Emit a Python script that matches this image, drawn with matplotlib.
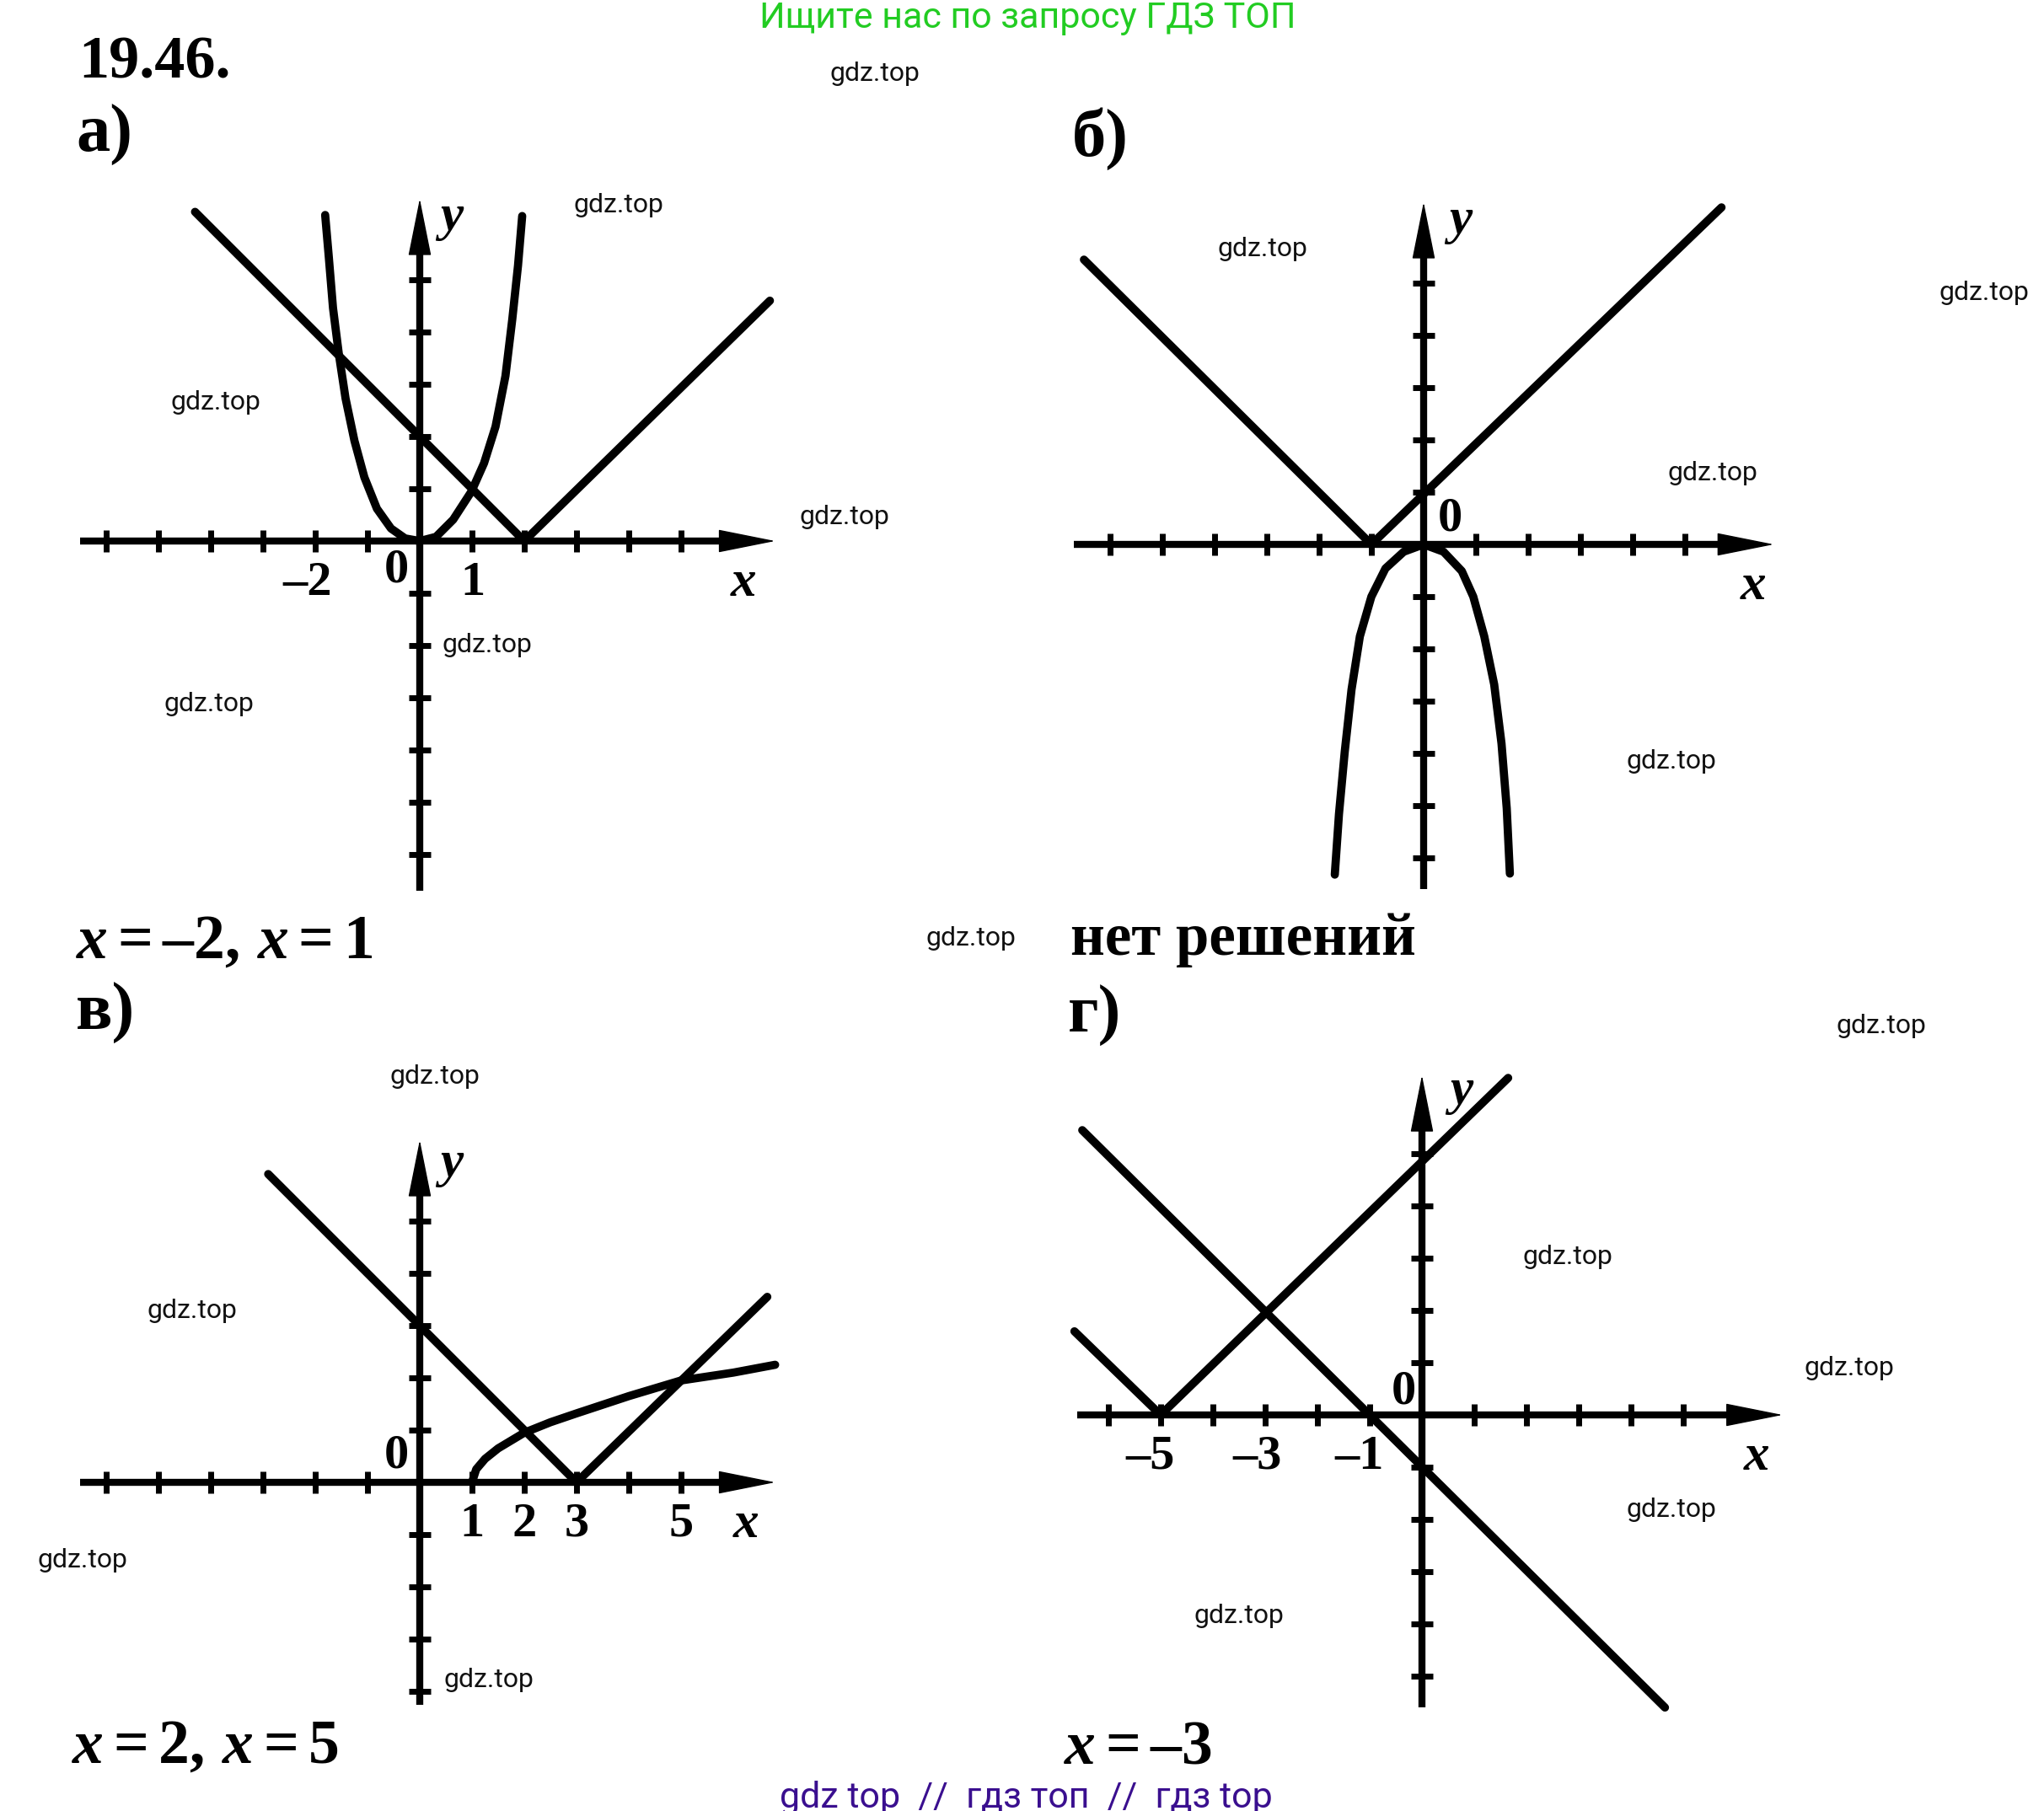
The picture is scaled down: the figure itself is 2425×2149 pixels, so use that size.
import numpy as np
import matplotlib.pyplot as plt

# figure size in pixels and the grid unit (one unit on every graph, px)
W, H = 2425, 2149
U = 62

# --- а) y = x^2 and y = |x - 2| ---
a_origin = (498, 642)
a_v_x = [-4.3, 2.0, 6.7]
a_v_y = [6.3, 0.0, 4.6]
a_par_x = [-1.81, -1.74, -1.66, -1.55, -1.42, -1.25, -1.06, -0.82, -0.55, -0.28, 0.0,
           0.31, 0.64, 0.99, 1.23, 1.45, 1.64, 1.77, 1.88, 1.96]
a_par_y = [6.24, 5.43, 4.46, 3.59, 2.73, 1.92, 1.22, 0.62, 0.24, 0.05, 0.0,
           0.08, 0.41, 0.95, 1.49, 2.19, 3.16, 4.24, 5.27, 6.22]

# --- б) y = -x^2 and y = |x + 1| ---
b_origin = (1689, 646)
b_v_x = [-6.5, -1.0, 5.7]
b_v_y = [5.45, 0.0, 6.45]
b_par_x = [-1.70, -1.62, -1.51, -1.38, -1.22, -1.0, -0.73, -0.38, 0.0,
           0.38, 0.73, 0.95, 1.16, 1.35, 1.49, 1.59, 1.65]
b_par_y = [-6.32, -5.16, -3.97, -2.78, -1.76, -1.0, -0.46, -0.14, 0.0,
           -0.14, -0.51, -1.0, -1.76, -2.68, -3.81, -5.05, -6.3]

# --- в) y = sqrt(x - 1) and y = |x - 3| ---
c_origin = (498, 1759)
c_v_x = [-2.9, 3.0, 6.65]
c_v_y = [5.9, 0.0, 3.55]
c_root_x = [1.0, 1.08, 1.25, 1.5, 2.0, 2.5, 3.0, 4.0, 5.0, 6.0, 6.8]
c_root_y = [0.0, 0.25, 0.45, 0.65, 0.95, 1.15, 1.32, 1.65, 1.95, 2.1, 2.25]

# --- г) y = |x + 5| and y = -x - 1 ---
d_origin = (1687, 1679)
d_v_x = [-6.65, -5.0, 1.65]
d_v_y = [1.6, 0.0, 6.45]
d_l_x = [-6.5, 4.65]
d_l_y = [5.45, -5.6]

# axis extents and ticks: (x_left, x_tip, y_bottom, y_tip)
a_ext = (-6.5, 6.8, -6.7, 6.55)
b_ext = (-6.7, 6.7, -6.6, 6.55)
c_ext = (-6.5, 6.8, -4.25, 6.55)
d_ext = (-6.6, 6.9, -5.6, 6.5)
a_xt = [-6, -5, -4, -3, -2, -1, 1, 2, 3, 4, 5]
a_yt = [-6, -5, -4, -3, -2, -1, 1, 2, 3, 4, 5]
b_xt = [-6, -5, -4, -3, -2, -1, 1, 2, 3, 4, 5]
b_yt = [-6, -5, -4, -3, -2, -1, 1, 2, 3, 4, 5]
c_xt = [-6, -5, -4, -3, -2, -1, 1, 2, 3, 4, 5]
c_yt = [-4, -3, -2, -1, 1, 2, 3, 4, 5]
d_xt = [-6, -5, -4, -3, -2, -1, 1, 2, 3, 4, 5]
d_yt = [-5, -4, -3, -2, -1, 1, 2, 3, 4, 5]

# tick labels (text, x, y) in data units
a_labels = [("–2", -2.15, -0.8), ("0", -0.45, -0.55), ("1", 1.02, -0.8)]
b_labels = [("0", 0.5, 0.5)]
c_labels = [("0", -0.45, 0.5), ("1", 1.0, -0.8), ("2", 2.0, -0.8),
            ("3", 3.0, -0.8), ("5", 5.0, -0.8)]
d_labels = [("0", -0.35, 0.45), ("–5", -5.2, -0.8), ("–3", -3.15, -0.8),
            ("–1", -1.2, -0.8)]

watermarks = [(990, 87), (686, 244), (207, 477), (954, 614), (529, 766),
              (199, 835), (1449, 295), (2305, 348), (1984, 561), (1935, 903),
              (1104, 1113), (2184, 1217), (468, 1278), (179, 1555), (50, 1851),
              (532, 1993), (1811, 1491), (2145, 1623), (1935, 1792), (1421, 1917)]

plt.rcParams['mathtext.fontset'] = 'custom'
plt.rcParams['mathtext.rm'] = 'Liberation Serif:bold'
plt.rcParams['mathtext.it'] = 'Liberation Serif:italic:bold'
plt.rcParams['mathtext.bf'] = 'Liberation Serif:bold'

SERIF = 'Liberation Serif'
LW = 7.0      # curves
AX_LW = 6.0   # axes

fig = plt.figure(figsize=(W / 100, H / 100), dpi=100)


def make_ax(origin, ext):
    ox, oy = origin
    x0, x1 = ext[0] - 0.5, ext[1] + 0.5
    y0, y1 = ext[2] - 0.5, ext[3] + 0.5
    ax = fig.add_axes([(ox + x0 * U) / W, (H - oy + y0 * U) / H,
                       (x1 - x0) * U / W, (y1 - y0) * U / H])
    ax.set_xlim(x0, x1)
    ax.set_ylim(y0, y1)
    ax.axis('off')
    ax.patch.set_alpha(0)
    return ax


def draw_axes(ax, ext, xt, yt, xlab_pos, ylab_pos):
    xl, xr, yb, yt_ = ext
    ax.plot([xl, xr - 0.5], [0, 0], color='k', lw=AX_LW, solid_capstyle='butt')
    ax.plot([0, 0], [yb, yt_ - 0.5], color='k', lw=AX_LW, solid_capstyle='butt')
    style = '-|>,head_length=1.5,head_width=0.3'
    ax.annotate('', xy=(xr, 0), xytext=(xr - 0.9, 0),
                arrowprops=dict(arrowstyle=style, color='k', lw=1,
                                mutation_scale=30, shrinkA=0, shrinkB=0))
    ax.annotate('', xy=(0, yt_), xytext=(0, yt_ - 0.9),
                arrowprops=dict(arrowstyle=style, color='k', lw=1,
                                mutation_scale=30, shrinkA=0, shrinkB=0))
    ax.plot(xt, np.zeros(len(xt)), ls='none', marker='|', ms=19, mew=5, color='k')
    ax.plot(np.zeros(len(yt)), yt, ls='none', marker='_', ms=19, mew=5, color='k')
    ax.text(*xlab_pos, 'x', fontsize=44, family=SERIF, style='italic',
            weight='bold', ha='center', va='center')
    ax.text(*ylab_pos, 'y', fontsize=44, family=SERIF, style='italic',
            weight='bold', ha='center', va='center')


def draw_labels(ax, labels):
    for s, x, y in labels:
        ax.text(x, y, s, fontsize=42, family=SERIF, weight='bold',
                ha='center', va='center')


# а)
ax = make_ax(a_origin, a_ext)
draw_axes(ax, a_ext, a_xt, a_yt, (6.2, -0.8), (0.6, 6.2))
ax.plot(a_v_x, a_v_y, color='k', lw=LW, solid_capstyle='round')
ax.plot(a_par_x, a_par_y, color='k', lw=LW, solid_capstyle='round',
        solid_joinstyle='round')
draw_labels(ax, a_labels)

# б)
ax = make_ax(b_origin, b_ext)
draw_axes(ax, b_ext, b_xt, b_yt, (6.3, -0.8), (0.7, 6.2))
ax.plot(b_v_x, b_v_y, color='k', lw=LW, solid_capstyle='round')
ax.plot(b_par_x, b_par_y, color='k', lw=LW, solid_capstyle='round',
        solid_joinstyle='round')
draw_labels(ax, b_labels)

# в)
ax = make_ax(c_origin, c_ext)
draw_axes(ax, c_ext, c_xt, c_yt, (6.25, -0.8), (0.6, 6.1))
ax.plot(c_v_x, c_v_y, color='k', lw=LW, solid_capstyle='round')
ax.plot(c_root_x, c_root_y, color='k', lw=LW, solid_capstyle='round',
        solid_joinstyle='round')
draw_labels(ax, c_labels)

# г)
ax = make_ax(d_origin, d_ext)
draw_axes(ax, d_ext, d_xt, d_yt, (6.4, -0.8), (0.75, 6.2))
ax.plot(d_v_x, d_v_y, color='k', lw=LW, solid_capstyle='round')
ax.plot(d_l_x, d_l_y, color='k', lw=LW, solid_capstyle='round')
draw_labels(ax, d_labels)


def ftext(x, y, s, **kw):
    fig.text(x / W, 1 - y / H, s, **kw)


ftext(93, 75, '19.46.', fontsize=52, family=SERIF, weight='bold', va='center')
for s, x, y in [('а)', 90, 160), ('б)', 1272, 165), ('в)', 90, 1202), ('г)', 1267, 1205)]:
    ftext(x, y, s, fontsize=58, family=SERIF, weight='bold', va='center')

ans = dict(fontsize=53, va='center')
ftext(90, 1116, r'$x=–2,\,x=1$', **ans)
ftext(1270, 1116, 'нет решений', fontsize=51, family=SERIF, weight='bold', va='center')
ftext(85, 2071, r'$x=2,\,x=5$', **ans)
ftext(1262, 2072, r'$x=–3$', **ans)

for x, y in watermarks:
    ftext(x - 5, y, 'gdz.top', fontsize=23, family='Roboto', va='center', color='#111111')

ftext(1219, 22, 'Ищите нас по запросу ГДЗ ТОП', fontsize=31, family='Roboto',
      color='#22cc22', ha='center', va='center')
ftext(1217, 2133, 'gdz top  //  гдз топ  //  гдз top', fontsize=31, family='Roboto',
      color='#3a0f8f', ha='center', va='center')

fig.savefig('out.png', dpi=100)
